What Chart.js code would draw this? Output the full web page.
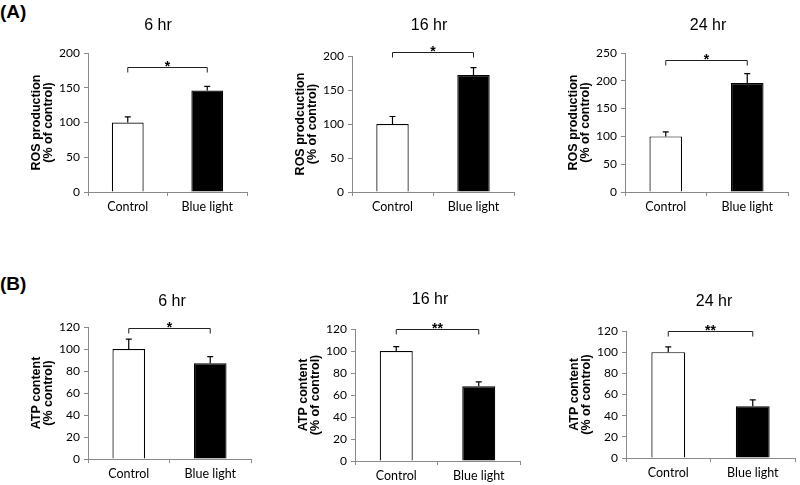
<!DOCTYPE html>
<html><head><meta charset="utf-8">
<script src="https://cdn.jsdelivr.net/npm/chart.js@4.4.0/dist/chart.umd.min.js"></script>
<style>
html,body{margin:0;padding:0;width:800px;height:485px;overflow:hidden;background:#fff;position:relative}
canvas{position:absolute}
.lab{position:absolute;font:bold 19px "Liberation Sans",Arial,sans-serif;color:#000}
</style></head><body>
<div class="lab" style="left:0px;top:1px">(A)</div>
<div class="lab" style="left:0px;top:273px">(B)</div>
<canvas id="a1"></canvas><canvas id="a2"></canvas><canvas id="a3"></canvas>
<canvas id="b1"></canvas><canvas id="b2"></canvas><canvas id="b3"></canvas>
<script>
// ---- data ----
const categories = ['Control', 'Blue light'];
const timeLabels = ['6 hr', '16 hr', '24 hr'];

const ros6hr = [100, 146];   const ros6hrErr = [8, 6];
const ros16hr = [100, 172];  const ros16hrErr = [11, 11];
const ros24hr = [100, 196];  const ros24hrErr = [8, 17];
const rosSigLevel = [180, 206, 237];
const rosSigLabel = ['*', '*', '*'];
const rosYMax = [200, 200, 250];
const rosYStep = [50, 50, 50];
const rosTitles = [['ROS production', '(% of control)'], ['ROS prodcuction', '(% of control)'], ['ROS production', '(% of control)']];

const atp6hr = [100, 87];    const atp6hrErr = [9, 6];
const atp16hr = [100, 68];   const atp16hrErr = [4, 4];
const atp24hr = [100, 49];   const atp24hrErr = [5, 6];
const atpSigLevel = [119, 120, 120];
const atpSigLabel = ['*', '**', '**'];
const atpYMax = [120, 120, 120];
const atpYStep = [20, 20, 20];
const atpTitles = [['ATP content', '(% control)'], ['ATP content', '(% of control)'], ['ATP content', '(% of control)']];

// ---- layout (absolute page pixels) ----
const FONT = '"Liberation Sans", Arial, sans-serif';
const TICKFONT = 'Lato, "Liberation Sans", sans-serif';
const layouts = {
  a1: {left: 8,   top: 0,   plotTop: 53,  plotBottom: 192, plotRight: 247, tx: 158, ty: 26},
  a2: {left: 272, top: 0,   plotTop: 56,  plotBottom: 192, plotRight: 514, tx: 429, ty: 26},
  a3: {left: 545, top: 0,   plotTop: 53,  plotBottom: 192, plotRight: 788, tx: 708, ty: 26},
  b1: {left: 8,   top: 250, plotTop: 327, plotBottom: 459, plotRight: 251, tx: 172, ty: 302},
  b2: {left: 275, top: 250, plotTop: 329, plotBottom: 461, plotRight: 520, tx: 430, ty: 300},
  b3: {left: 546, top: 250, plotTop: 331, plotBottom: 458, plotRight: 795, tx: 714, ty: 302}
};

const annot = {
  id: 'annot',
  afterDatasetsDraw(chart) {
    const ds = chart.data.datasets[0];
    const meta = chart.getDatasetMeta(0);
    const y = chart.scales.y;
    const ctx = chart.ctx;
    ctx.save();
    ctx.strokeStyle = '#000';
    ctx.lineWidth = 1.2;
    meta.data.forEach((bar, i) => {
      const v = ds.data[i], e = ds.errorBars[i];
      const x = bar.x, y0 = y.getPixelForValue(v), y1 = y.getPixelForValue(v + e);
      ctx.beginPath();
      ctx.moveTo(x, y0); ctx.lineTo(x, y1);
      ctx.moveTo(x - 3, y1); ctx.lineTo(x + 3, y1);
      ctx.stroke();
    });
    const by = Math.round(y.getPixelForValue(ds.sigLevel)) + 0.5;
    const x0 = meta.data[0].x, x1 = meta.data[1].x;
    ctx.lineWidth = 1;
    ctx.strokeStyle = '#222';
    ctx.beginPath();
    ctx.moveTo(x0, by + 5); ctx.lineTo(x0, by); ctx.lineTo(x1, by); ctx.lineTo(x1, by + 5);
    ctx.stroke();
    ctx.fillStyle = '#000';
    ctx.font = 'bold 14px ' + FONT;
    ctx.textAlign = 'center';
    ctx.textBaseline = 'alphabetic';
    ctx.fillText(ds.sigLabel, (x0 + x1) / 2, by + 3);
    ctx.restore();
  },
  afterDraw(chart, args, opts) {
    const ctx = chart.ctx;
    ctx.save();
    ctx.fillStyle = '#000';
    ctx.font = '16px ' + FONT;
    ctx.textAlign = 'center';
    ctx.textBaseline = 'middle';
    ctx.fillText(chart.config.options.panelTitle.text, chart.config.options.panelTitle.x, chart.config.options.panelTitle.y);
    ctx.restore();
  }
};

function makePanel(id, title, values, errs, sig, sigLabel, yMax, yStep, yTitle) {
  const L = layouts[id];
  const cv = document.getElementById(id);
  const w = L.plotRight - L.left + 8;
  const h = L.plotBottom - L.top + 30;
  cv.width = w; cv.height = h;
  cv.style.left = L.left + 'px'; cv.style.top = L.top + 'px';
  cv.style.width = w + 'px'; cv.style.height = h + 'px';
  new Chart(cv, {
    type: 'bar',
    data: {
      labels: categories,
      datasets: [{
        data: values,
        errorBars: errs,
        sigLevel: sig,
        sigLabel: sigLabel,
        backgroundColor: ['#ffffff', '#000000'],
        borderColor: '#000',
        borderWidth: 1.2,
        barPercentage: 0.4,
        categoryPercentage: 1
      }]
    },
    options: {
      responsive: false,
      animation: false,
      devicePixelRatio: 1,
      panelTitle: {text: title, x: L.tx - L.left, y: L.ty - L.top},
      layout: {padding: {left: 0, right: 8, top: L.plotTop - L.top, bottom: 0}},
      plugins: {
        legend: {display: false},
        tooltip: {enabled: false},
        title: {display: false}
      },
      scales: {
        x: {
          grid: {display: true, drawOnChartArea: false, drawTicks: true, tickLength: 4, offset: true, color: '#8a8a8a'},
          border: {color: '#8a8a8a', width: 1},
          ticks: {color: '#000', font: {family: TICKFONT, size: 12.5}, padding: 3},
          afterFit: s => { s.height = 30; }
        },
        y: {
          min: 0, max: yMax,
          grid: {display: true, drawOnChartArea: false, drawTicks: true, tickLength: 4, color: '#8a8a8a'},
          border: {color: '#8a8a8a', width: 1},
          ticks: {stepSize: yStep, color: '#000', font: {family: TICKFONT, size: 12}, padding: 4},
          title: {display: true, text: yTitle, color: '#000',
                  font: {family: FONT, size: 12.5, weight: 'bold', lineHeight: 1.0},
                  padding: {top: 22, bottom: 0}},
          afterFit: s => { s.width = 80; }
        }
      }
    },
    plugins: [annot]
  });
}

makePanel('a1', timeLabels[0], ros6hr, ros6hrErr, rosSigLevel[0], rosSigLabel[0], rosYMax[0], rosYStep[0], rosTitles[0]);
makePanel('a2', timeLabels[1], ros16hr, ros16hrErr, rosSigLevel[1], rosSigLabel[1], rosYMax[1], rosYStep[1], rosTitles[1]);
makePanel('a3', timeLabels[2], ros24hr, ros24hrErr, rosSigLevel[2], rosSigLabel[2], rosYMax[2], rosYStep[2], rosTitles[2]);
makePanel('b1', timeLabels[0], atp6hr, atp6hrErr, atpSigLevel[0], atpSigLabel[0], atpYMax[0], atpYStep[0], atpTitles[0]);
makePanel('b2', timeLabels[1], atp16hr, atp16hrErr, atpSigLevel[1], atpSigLabel[1], atpYMax[1], atpYStep[1], atpTitles[1]);
makePanel('b3', timeLabels[2], atp24hr, atp24hrErr, atpSigLevel[2], atpSigLabel[2], atpYMax[2], atpYStep[2], atpTitles[2]);
</script>
</body></html>
